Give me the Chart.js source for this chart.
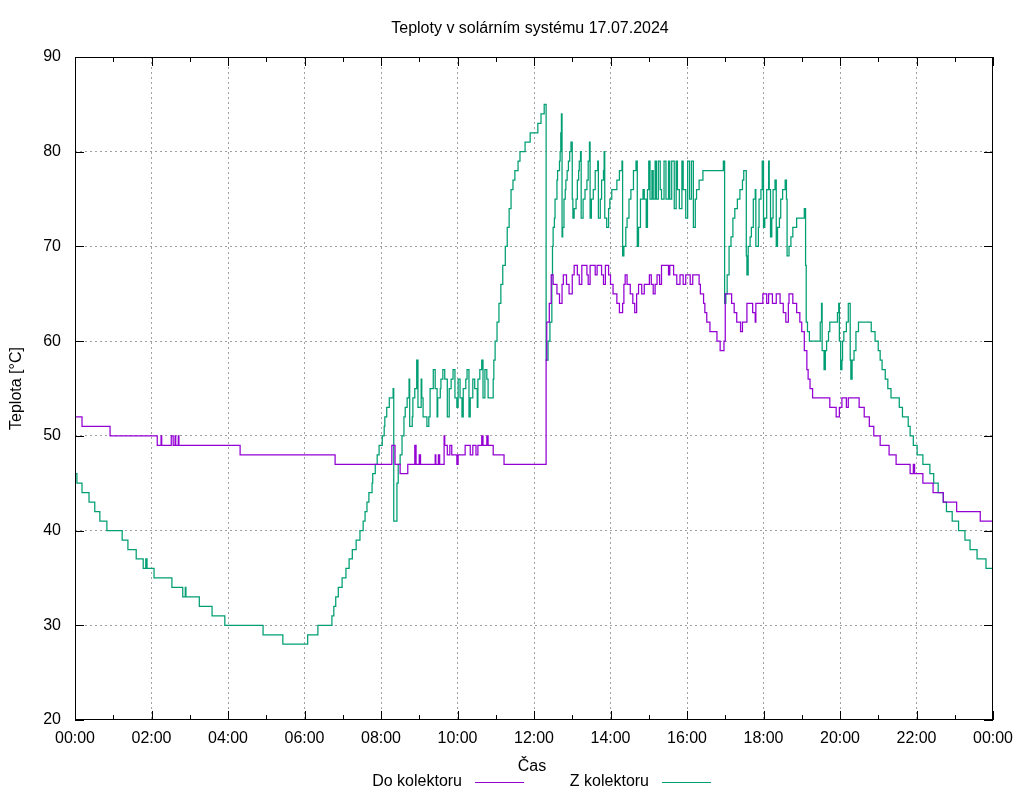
<!DOCTYPE html>
<html>
<head>
<meta charset="utf-8">
<script src="https://cdn.jsdelivr.net/npm/chart.js@4.4.1/dist/chart.umd.min.js"></script>
<style>
html, body { margin: 0; padding: 0; background: #fff; }
</style>
</head>
<body>
<canvas id="myChart" width="1024" height="800"></canvas>
<script>
// data, times in minutes from midnight
var titleText = 'Teploty v solárním systému 17.07.2024';
var xTitle = 'Čas';
var yTitle = 'Teplota [°C]';
var xTickLabels = ['00:00','02:00','04:00','06:00','08:00','10:00','12:00','14:00','16:00','18:00','20:00','22:00','00:00'];

var do_name = 'Do kolektoru';
var do_times = [0,11,55,129,135,136,151,154,157,158,162,163,259,408,497,502,510,522,533,535,540,542,565,566,570,572,579,580,584,588,591,599,601,612,620,624,629,632,638,640,646,648,656,673,739,740,744,747,750,756,760,764,766,771,775,780,783,788,791,795,803,805,808,816,819,826,829,832,837,840,844,850,854,859,861,863,866,871,875,878,881,884,889,893,901,904,907,910,913,917,920,931,933,939,944,949,954,958,965,969,979,981,986,988,991,996,1007,1012,1018,1020,1030,1034,1038,1044,1047,1054,1063,1067,1068,1079,1085,1088,1094,1100,1106,1111,1115,1119,1120,1126,1132,1137,1140,1144,1148,1150,1153,1157,1184,1194,1199,1203,1210,1213,1230,1238,1246,1253,1263,1277,1288,1310,1315,1317,1330,1346,1362,1383,1420,1440];
var do_values = [52,51,50,49,50,49,50,49,50,49,50,49,48,47,49,47,46,47,49,47,48,47,48,47,48,47,50,49,48,49,48,47,48,49,48,49,48,49,50,49,50,49,48,47,58,62,64,67,66,65,64,66,67,66,65,67,68,67,66,68,67,66,68,67,68,67,66,68,67,66,65,64,63,64,66,67,66,65,64,63,65,66,65,66,67,66,65,66,67,66,68,67,68,67,66,67,66,67,66,67,66,65,64,63,62,61,60,59,60,65,64,63,62,61,62,64,63,62,64,65,64,65,64,65,64,63,62,64,65,64,63,62,61,59,57,56,55,54,53,52,53,54,53,54,53,52,51,50,49,48,47,46,47,46,45,44,43,42,41,41];

var z_name = 'Z kolektoru';
var z_times = [0,3,11,22,31,39,50,74,83,96,107,111,113,124,152,169,173,174,195,215,235,295,326,365,381,403,406,409,413,419,425,430,435,441,447,452,455,458,461,466,467,471,474,477,482,485,486,489,493,499,500,505,507,510,513,516,518,521,524,525,529,530,533,536,538,543,544,546,552,555,557,562,565,568,569,573,574,577,580,584,587,590,593,596,599,601,604,607,609,613,615,618,620,624,627,631,632,635,638,640,643,646,648,656,657,659,662,665,668,671,675,678,681,684,687,690,695,698,706,714,726,731,736,739,742,745,748,749,750,752,753,756,757,760,761,762,763,764,765,767,769,770,772,774,776,778,780,781,783,786,788,790,791,793,794,797,800,803,805,807,808,810,813,816,820,821,824,826,829,830,831,834,837,839,842,850,854,858,859,861,864,866,869,872,876,880,882,884,887,891,893,896,898,900,902,905,907,910,912,915,918,920,924,927,931,933,936,940,943,945,948,952,954,958,961,964,967,970,973,975,979,985,1017,1019,1021,1023,1026,1029,1032,1035,1039,1043,1047,1049,1053,1054,1056,1059,1061,1064,1067,1068,1072,1073,1076,1078,1080,1082,1085,1088,1089,1091,1093,1095,1098,1100,1102,1105,1107,1110,1114,1116,1117,1120,1123,1126,1132,1144,1146,1147,1149,1152,1169,1171,1172,1175,1177,1179,1182,1184,1196,1198,1199,1201,1203,1204,1206,1210,1213,1216,1217,1219,1222,1225,1229,1249,1255,1260,1263,1266,1271,1275,1280,1293,1298,1307,1310,1315,1321,1330,1341,1347,1354,1362,1367,1376,1386,1396,1404,1415,1429,1440];
var z_values = [46,45,44,43,42,41,40,39,38,37,36,37,36,35,34,33,34,33,32,31,30,29,28,29,30,31,32,33,34,35,36,37,38,39,40,41,42,43,44,45,46,47,48,49,50,51,52,53,54,55,41,45,47,48,50,52,53,54,56,51,52,54,55,58,53,56,54,52,51,52,55,57,55,52,54,55,56,57,56,52,55,56,57,54,53,56,54,52,55,56,57,52,54,56,55,53,56,57,58,54,57,56,54,56,58,60,62,64,66,68,70,72,74,76,77,78,79,80,81,82,83,84,85,58,60,62,67,70,72,73,75,77,78,79,80,82,84,71,72,75,76,77,78,79,80,81,75,73,74,75,77,78,79,80,73,75,76,77,79,81,73,75,76,78,79,73,75,77,78,80,73,72,74,75,76,77,78,79,69,70,72,73,75,76,78,79,70,72,75,76,75,72,76,79,75,78,75,79,75,79,76,75,79,75,79,75,79,74,79,76,74,79,76,73,79,75,79,72,75,76,77,78,79,64,65,67,70,71,73,74,75,76,77,78,69,67,70,71,72,75,76,70,72,75,76,79,72,73,76,79,76,71,73,76,77,70,72,73,75,76,77,75,69,70,71,72,73,74,68,62,61,60,62,64,59,57,59,60,61,62,63,64,60,57,58,60,61,62,64,58,56,58,59,61,62,61,60,59,58,57,56,55,54,53,52,51,50,49,48,47,46,45,44,43,42,41,40,39,38,37,36,36];

var do_color = '#9400d3';
var z_color = '#009e73';
var gridColor = '#a0a0a0';
var fontFamily = '"Liberation Sans", Arial, sans-serif';

function toPoints(times, values) {
  var pts = [];
  for (var i = 0; i < times.length; i++) {
    pts.push({x: times[i], y: values[i]});
  }
  return pts;
}

var hourTicks = [];
for (var m = 0; m <= 1440; m += 60) hourTicks.push(m);

// gnuplot style frame, inward ticks, titles and legend
var gnuplotLook = {
  id: 'gnuplotLook',
  afterDraw: function(chart) {
    var ctx = chart.ctx;
    var a = chart.chartArea;
    var xs = chart.scales.x;
    var ys = chart.scales.y;
    ctx.save();
    ctx.strokeStyle = '#000';
    ctx.lineWidth = 1;
    ctx.setLineDash([]);
    ctx.strokeRect(Math.round(a.left) + 0.5, Math.round(a.top) + 0.5,
      Math.round(a.right - a.left) - 1, Math.round(a.bottom - a.top) - 1);

    ctx.beginPath();
    xs.ticks.forEach(function(t) {
      var px = Math.round(xs.getPixelForValue(t.value)) + 0.5;
      var len = (t.value % 120 === 0) ? 9 : 5;
      ctx.moveTo(px, a.bottom); ctx.lineTo(px, a.bottom - len);
      ctx.moveTo(px, a.top); ctx.lineTo(px, a.top + len);
    });
    ys.ticks.forEach(function(t) {
      var py = Math.round(ys.getPixelForValue(t.value)) + 0.5;
      ctx.moveTo(a.left, py); ctx.lineTo(a.left + 9, py);
      ctx.moveTo(a.right, py); ctx.lineTo(a.right - 9, py);
    });
    ctx.stroke();

    ctx.fillStyle = '#000';
    ctx.font = '16px ' + fontFamily;
    ctx.textAlign = 'center';
    ctx.textBaseline = 'middle';
    ctx.fillText(titleText, 530, 29);
    ctx.fillText(xTitle, 532, 767);

    ctx.save();
    ctx.translate(17, (a.top + a.bottom) / 2);
    ctx.rotate(-Math.PI / 2);
    ctx.fillText(yTitle, 0, 0);
    ctx.restore();

    var legendX = [462, 649];
    var legendColors = [do_color, z_color];
    var legendNames = [do_name, z_name];
    for (var i = 0; i < 2; i++) {
      ctx.textAlign = 'right';
      ctx.fillStyle = '#000';
      ctx.fillText(legendNames[i], legendX[i], 782);
      ctx.beginPath();
      ctx.strokeStyle = legendColors[i];
      ctx.lineWidth = 1;
      ctx.moveTo(legendX[i] + 13, 782.5);
      ctx.lineTo(legendX[i] + 62, 782.5);
      ctx.stroke();
    }
    ctx.restore();
  }
};

var ctx = document.getElementById('myChart').getContext('2d');
var myChart = new Chart(ctx, {
  type: 'line',
  data: {
    datasets: [
      {
        label: do_name,
        data: toPoints(do_times, do_values),
        borderColor: do_color,
        borderWidth: 1.25,
        pointRadius: 0,
        stepped: true,
        fill: false
      },
      {
        label: z_name,
        data: toPoints(z_times, z_values),
        borderColor: z_color,
        borderWidth: 1.25,
        pointRadius: 0,
        stepped: true,
        fill: false
      }
    ]
  },
  options: {
    responsive: false,
    animation: false,
    devicePixelRatio: 1,
    layout: { padding: { top: 57, right: 31, left: 0, bottom: 0 } },
    plugins: {
      legend: { display: false },
      title: { display: false },
      tooltip: { enabled: false }
    },
    scales: {
      x: {
        type: 'linear',
        min: 0,
        max: 1440,
        afterBuildTicks: function(s) {
          s.ticks = hourTicks.map(function(v) { return {value: v}; });
        },
        afterFit: function(s) { s.height = 80; },
        ticks: {
          autoSkip: false,
          maxRotation: 0,
          padding: 9,
          color: '#000',
          font: { family: fontFamily, size: 16 },
          callback: function(v) {
            return (v % 120 === 0) ? xTickLabels[v / 120] : '';
          }
        },
        grid: {
          drawTicks: false,
          lineWidth: 1,
          color: function(c) {
            if (!c.tick) return 'transparent';
            var v = c.tick.value;
            return (v % 120 === 0 && v > 0 && v < 1440) ? gridColor : 'transparent';
          }
        },
        border: { display: false, dash: [2, 3] }
      },
      y: {
        min: 20,
        max: 90,
        afterFit: function(s) { s.width = 75; },
        ticks: {
          stepSize: 10,
          padding: 14,
          color: '#000',
          font: { family: fontFamily, size: 16 }
        },
        grid: {
          drawTicks: false,
          lineWidth: 1,
          color: function(c) {
            if (!c.tick) return 'transparent';
            var v = c.tick.value;
            return (v > 20 && v < 90) ? gridColor : 'transparent';
          }
        },
        border: { display: false, dash: [2, 3] }
      }
    }
  },
  plugins: [gnuplotLook]
});
</script>
</body>
</html>
